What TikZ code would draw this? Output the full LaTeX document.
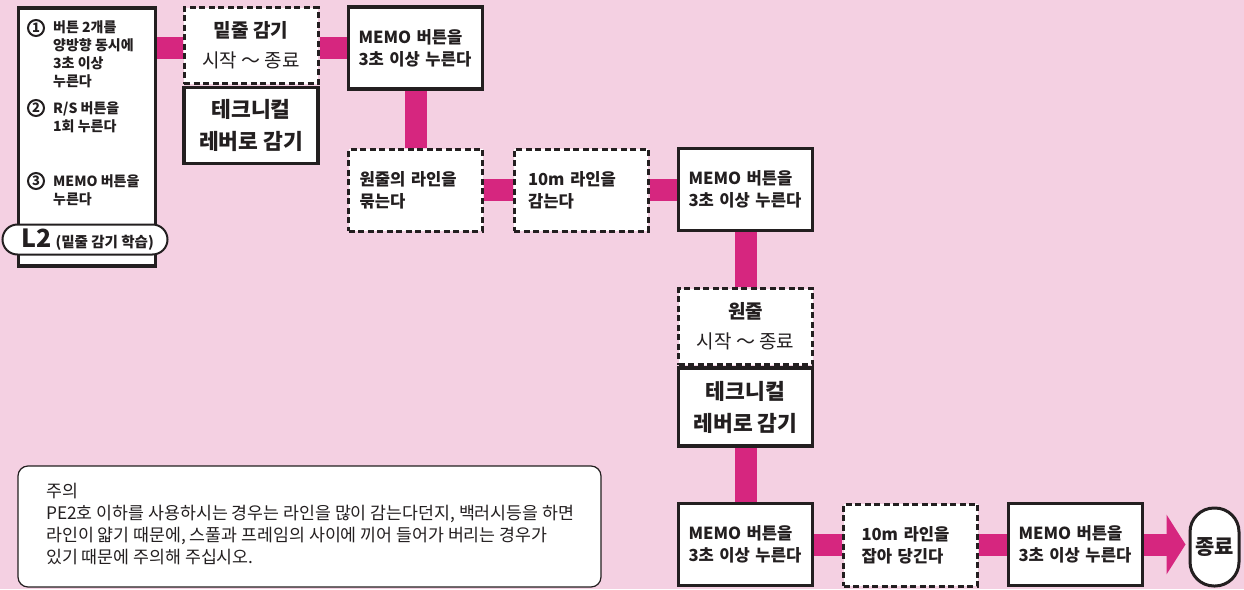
\documentclass[tikz,border=0pt]{standalone}
\usepackage{fontspec}
\setmainfont{Noto Sans CJK KR}
\usetikzlibrary{arrows.meta,calc}
\definecolor{bgpink}{HTML}{F4D0E2}
\definecolor{mag}{HTML}{D6267F}
\definecolor{ink}{HTML}{231F20}
\pgfdeclarelayer{back}
\pgfdeclarelayer{conns}
\pgfsetlayers{back,conns,main}
\tikzset{
  solidbox/.style={draw=ink, line width=3.3pt, fill=white, minimum width=134pt, minimum height=82pt, inner ysep=0pt, inner xsep=10pt, text=ink},
  dashbox/.style={solidbox, line width=3pt, dash pattern=on 6pt off 3.5pt},
  memo/.style={text width=114pt, align=left, font=\bfseries\fontsize{16.6}{22}\selectfont},
  startend/.style={align=center, font=\fontsize{19}{30}\selectfont},
  lever/.style={align=center, font=\bfseries\fontsize{21.5}{32}\selectfont},
  conn/.style={draw=mag, line width=22pt},
  lefttxt/.style={anchor=west, align=left, inner sep=0pt, text=ink, font=\bfseries\fontsize{14}{18}\selectfont},
  circnum/.style={circle, draw=ink, line width=2pt, minimum size=16pt, inner sep=0pt, text=ink, font=\bfseries\fontsize{13}{13}\selectfont},
}
\begin{document}
\begin{tikzpicture}[x=1pt, y=-1pt]
\begin{pgfonlayer}{back}
  \path[use as bounding box, fill=bgpink] (0,0) rectangle (1244,589);
\end{pgfonlayer}

% left instruction box
\node[draw=ink, line width=3.5pt, fill=white, minimum width=137pt, minimum height=258pt, inner sep=0pt] (L) at (87,137) {};
\node[circnum] (c1) at (36,28) {1};
\node[circnum] (c2) at (36,108) {2};
\node[circnum] (c3) at (36,181) {3};
\node[lefttxt] (g1) at (53,54) {버튼 2개를\\양방향 동시에\\3초 이상\\누른다};
\node[lefttxt] (g2) at (53,117) {R/S 버튼을\\1회 누른다};
\node[lefttxt] (g3) at (53,190) {MEMO 버튼을\\누른다};
\node[draw=ink, line width=2pt, fill=white, rounded corners=15pt, minimum width=165pt, minimum height=30pt, inner sep=0pt] (P) at (85,239.5) {};
\node[anchor=west, inner sep=0pt, text=ink] (Pt) at (21,240) {\bfseries\fontsize{25}{25}\selectfont L2\,{\fontsize{14.5}{14.5}\selectfont (밑줄 감기 학습)}};

% row 1
\node[dashbox, minimum height=76pt, startend] (D1) at (251,45.5) {\textbf{밑줄 감기}\\시작 ～ 종료};
\node[solidbox, minimum height=76pt, lever] (T1) at (251,125.5) {테크니컬\\레버로 감기};
\node[solidbox, memo] (M1) at (415.5,48) {MEMO 버튼을\\3초 이상 누른다};

% row 2
\node[dashbox, memo, inner xsep=11pt, text width=112pt] (N1) at (415.5,190) {원줄의 라인을\\묶는다};
\node[dashbox, memo, inner xsep=14pt, text width=106pt] (N2) at (581,190) {10m 라인을\\감는다};
\node[solidbox, memo] (M2) at (745.5,189.5) {MEMO 버튼을\\3초 이상 누른다};

% column
\node[dashbox, minimum height=76pt, startend] (D2) at (745.5,326.5) {\textbf{원줄}\\시작 ～ 종료};
\node[solidbox, minimum height=78pt, lever] (T2) at (745.5,407) {테크니컬\\레버로 감기};

% row 4
\node[solidbox, memo] (M3) at (745.5,544.5) {MEMO 버튼을\\3초 이상 누른다};
\node[dashbox, memo, inner xsep=17pt, text width=98pt] (N3) at (910.5,545) {10m 라인을\\잡아 당긴다};
\node[solidbox, memo] (M4) at (1075.5,544.5) {MEMO 버튼을\\3초 이상 누른다};
\node[draw=ink, line width=3pt, fill=white, rounded corners=24pt, minimum width=49pt, minimum height=78pt, inner sep=0pt, text=ink, font=\bfseries\fontsize{21}{21}\selectfont] (E) at (1214.5,547) {종료};

% note
\node[draw=ink, line width=1.2pt, fill=white, rounded corners=10pt, minimum width=583pt, minimum height=121pt, inner sep=0pt] (NB) at (309.5,526.5) {};
\node[anchor=west, align=left, inner sep=0pt, text=ink, font=\fontsize{17.3}{22}\selectfont] (NT) at (46,524) {주의\\PE2호 이하를 사용하시는 경우는 라인을 많이 감는다던지, 백러시등을 하면\\라인이 얇기 때문에, 스풀과 프레임의 사이에 끼어 들어가 버리는 경우가\\있기 때문에 주의해 주십시오.};

\begin{pgfonlayer}{conns}
  \draw[conn] (L.east |- M1.center) -- (D1.west |- M1.center);
  \draw[conn] (D1.east |- M1.center) -- (M1.west);
  \draw[conn] (M1.south) -- (N1.north);
  \draw[conn] (N1.east) -- (N2.west);
  \draw[conn] (N2.east) -- (N2.east -| M2.west);
  \draw[conn] (M2.south) -- (D2.north);
  \draw[conn] (T2.south) -- (M3.north);
  \draw[conn] (M3.east) -- (M3.east -| N3.west);
  \draw[conn] (N3.east |- M4.west) -- (M4.west);
  \draw[conn, -{Triangle[length=19pt,width=59pt]}, shorten >=3pt] (M4.east) -- (E.west |- M4.east);
\end{pgfonlayer}
\end{tikzpicture}
\end{document}
